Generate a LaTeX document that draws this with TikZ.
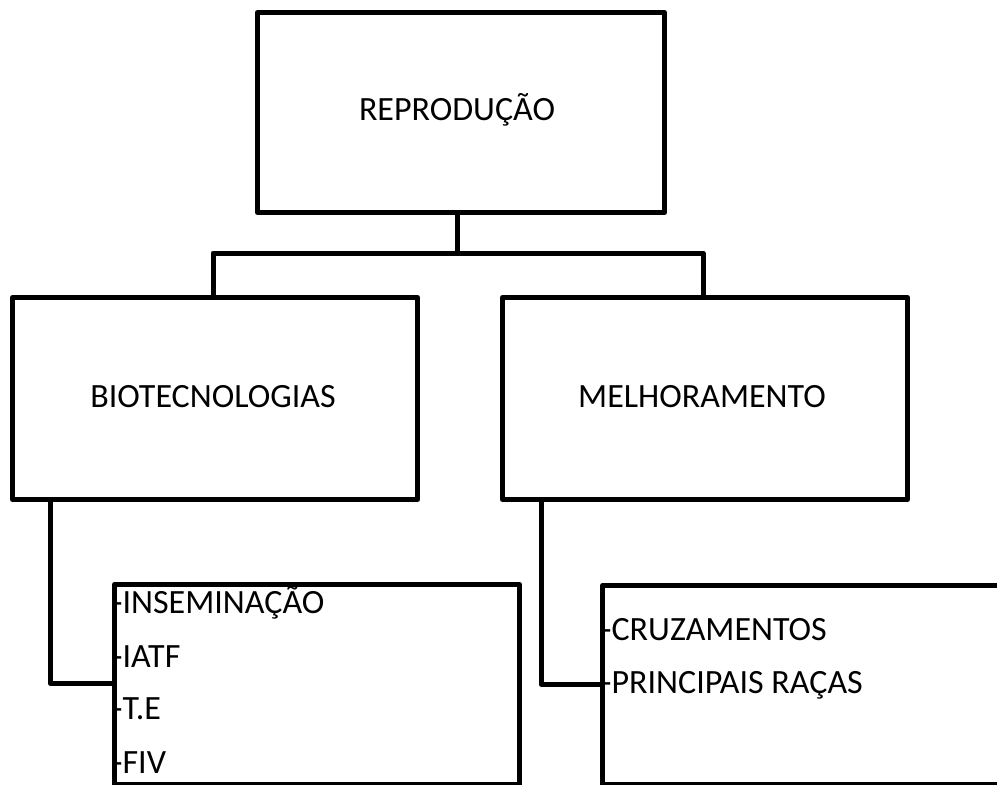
\documentclass[tikz,border=0pt]{standalone}
\usepackage{fontspec}
\setmainfont{Carlito}
\begin{document}
\begin{tikzpicture}[x=1pt,y=-1pt,
  box/.style={draw=black,line width=5pt,line join=round,inner sep=0pt,anchor=north west,fill=white},
  conn/.style={draw=black,line width=5pt,line join=round},
  lbl/.style={font=\fontsize{34}{36}\selectfont,inner sep=0pt},
  item/.style={font=\fontsize{34}{36}\selectfont,inner sep=0pt,anchor=base west}]
\useasboundingbox (0,0) rectangle (997,785);
\clip (0,0) rectangle (997,785);
\fill[white] (0,0) rectangle (997,785);
% boxes
\node[box,minimum width=407pt,minimum height=200pt] (top) at (255,10) {};
\node[box,minimum width=405pt,minimum height=202pt] (bio) at (10,295) {};
\node[box,minimum width=405pt,minimum height=202pt] (mel) at (500,295) {};
\node[box,minimum width=405pt,minimum height=200pt] (lst1) at (112,582) {};
\node[box,minimum width=430pt,minimum height=199pt] (lst2) at (600,583) {};
% labels
\node[lbl] (ttop) at (457,110) {REPRODUÇÃO};
\node[lbl] (tbio) at (213,397) {BIOTECNOLOGIAS};
\node[lbl] (tmel) at (702,397) {MELHORAMENTO};
% connectors
\coordinate (jn) at (457,253);
\draw[conn] (top.south -| jn) -- (jn);
\draw[conn] (bio.north -| 213,0) |- (jn) -| (mel.north -| 703,0);
\coordinate (b1) at (50,683);
\draw[conn] (bio.south -| b1) -- (b1) -- (lst1.west |- b1);
\coordinate (b2) at (541,684);
\draw[conn] (mel.south -| b2) -- (b2) -- (lst2.west |- b2);
% list items
\node[item] (i1) at (112,613) {-INSEMINAÇÃO};
\node[item] (i2) at (112,667) {-IATF};
\node[item] (i3) at (112,719) {-T.E};
\node[item] (i4) at (112,773) {-FIV};
\node[item] (j1) at (601,640) {-CRUZAMENTOS};
\node[item] (j2) at (601,693) {-PRINCIPAIS RAÇAS};
\end{tikzpicture}
\end{document}
